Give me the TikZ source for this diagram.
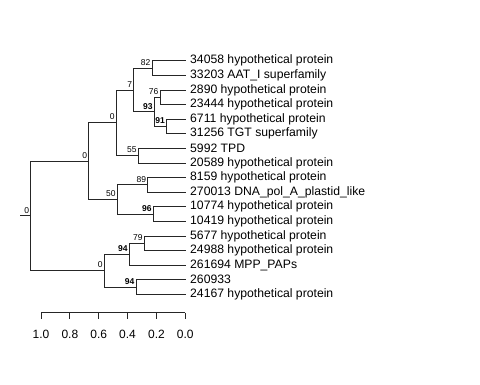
\documentclass[tikz,border=0pt]{standalone}
\usepackage{fontspec}
\setmainfont{Liberation Sans}
\usetikzlibrary{calc}
\begin{document}
\begin{tikzpicture}[x=1pt,y=-1pt,
  branch/.style={draw=black!85,line width=0.8pt},
  leaflab/.style={anchor=west,inner sep=0pt,font=\fontsize{12.2}{14}\selectfont},
  boot/.style={anchor=south east,inner sep=0pt,font=\fontsize{8.5}{9}\selectfont},
  bootb/.style={boot,font=\fontsize{8.5}{9}\selectfont\bfseries},
  axlab/.style={anchor=center,inner sep=0pt,font=\fontsize{12}{14}\selectfont}]
\useasboundingbox (0,0) rectangle (480,384);
% leaf tips
\foreach \i/\t in {0/34058 hypothetical protein,1/33203 AAT\_I superfamily,2/2890 hypothetical protein,3/23444 hypothetical protein,4/6711 hypothetical protein,5/31256 TGT superfamily,6/5992 TPD,7/20589 hypothetical protein,8/8159 hypothetical protein,9/270013 DNA\_pol\_A\_plastid\_like,10/10774 hypothetical protein,11/10419 hypothetical protein,12/5677 hypothetical protein,13/24988 hypothetical protein,14/261694 MPP\_PAPs,15/260933,16/24167 hypothetical protein}{
  \coordinate (t\i) at (185.5,{60.7+14.6*\i});
  \node[leaflab] (n\i) at (190,{60.7+14.6*\i}) {\t};
}
% internal nodes
\coordinate (D) at (152,{60.7+14.6*0.5});
\coordinate (F) at (160,{60.7+14.6*2.5});
\coordinate (G) at (166.5,{60.7+14.6*4.5});
\coordinate (E) at (154.3,{60.7+14.6*3.5});
\coordinate (C) at (133.7,{60.7+14.6*(0.5+3.5)/2});
\coordinate (H) at (138.3,{60.7+14.6*6.5});
\coordinate (B) at (116.3,{60.7+14.6*(2+6.5)/2});
\coordinate (J) at (147.7,{60.7+14.6*8.5});
\coordinate (K) at (153.3,{60.7+14.6*10.5});
\coordinate (I) at (117.3,{60.7+14.6*9.5});
\coordinate (A) at (88.7,{60.7+14.6*(4.25+9.5)/2});
\coordinate (N) at (144.3,{60.7+14.6*12.5});
\coordinate (M) at (129.3,{60.7+14.6*(12.5+14)/2});
\coordinate (O) at (136,{60.7+14.6*15.5});
\coordinate (L) at (104.3,{60.7+14.6*(13.25+15.5)/2});
\coordinate (R) at (30.7,{60.7+14.6*(6.875+14.375)/2});
\coordinate (S) at (20,{60.7+14.6*(6.875+14.375)/2});
% branches
\draw[branch] (S) -- (R);
\draw[branch] (R) |- (A); \draw[branch] (R) |- (L);
\draw[branch] (A) |- (B); \draw[branch] (A) |- (I);
\draw[branch] (B) |- (C); \draw[branch] (B) |- (H);
\draw[branch] (C) |- (D); \draw[branch] (C) |- (E);
\draw[branch] (D) |- (t0); \draw[branch] (D) |- (t1);
\draw[branch] (E) |- (F); \draw[branch] (E) |- (G);
\draw[branch] (F) |- (t2); \draw[branch] (F) |- (t3);
\draw[branch] (G) |- (t4); \draw[branch] (G) |- (t5);
\draw[branch] (H) |- (t6); \draw[branch] (H) |- (t7);
\draw[branch] (I) |- (J); \draw[branch] (I) |- (K);
\draw[branch] (J) |- (t8); \draw[branch] (J) |- (t9);
\draw[branch] (K) |- (t10); \draw[branch] (K) |- (t11);
\draw[branch] (L) |- (M); \draw[branch] (L) |- (O);
\draw[branch] (M) |- (N); \draw[branch] (M) |- (t14);
\draw[branch] (N) |- (t12); \draw[branch] (N) |- (t13);
\draw[branch] (O) |- (t15); \draw[branch] (O) |- (t16);
% bootstrap labels
\node[boot] (bR) at ($(R)+(-1.5,-2.5)$) {0};
\node[boot] (bA) at ($(A)+(-1.5,-2.5)$) {0};
\node[boot] (bB) at ($(B)+(-1.5,-2.5)$) {0};
\node[boot] (bC) at ($(C)+(-1.5,-2.5)$) {7};
\node[boot] (bD) at ($(D)+(-1.5,-2.5)$) {82};
\node[bootb] (bE) at ($(E)+(-1.5,-2.5)$) {93};
\node[boot] (bF) at ($(F)+(-1.5,-2.5)$) {76};
\node[bootb] (bG) at ($(G)+(-1.5,-2.5)$) {91};
\node[boot] (bH) at ($(H)+(-1.5,-2.5)$) {55};
\node[boot] (bI) at ($(I)+(-1.5,-2.5)$) {50};
\node[boot] (bJ) at ($(J)+(-1.5,-2.5)$) {89};
\node[bootb] (bK) at ($(K)+(-1.5,-2.5)$) {96};
\node[boot] (bL) at ($(L)+(-1.5,-2.5)$) {0};
\node[bootb] (bM) at ($(M)+(-1.5,-2.5)$) {94};
\node[boot] (bN) at ($(N)+(-1.5,-2.5)$) {79};
\node[bootb] (bO) at ($(O)+(-1.5,-2.5)$) {94};
% axis
\coordinate (ax0) at (41,312.7);
\coordinate (ax1) at (185.3,312.7);
\draw[branch] (ax0) -- (ax1);
\foreach \k/\l in {0/1.0,1/0.8,2/0.6,3/0.4,4/0.2,5/0.0}{
  \coordinate (tk\k) at ({41+28.86*\k},312.7);
  \coordinate (tb\k) at ({41+28.86*\k},318.5);
  \draw[branch] (tk\k) -- (tb\k);
  \node[axlab] (al\k) at ({41+28.86*\k},334) {\l};
}
\end{tikzpicture}
\end{document}
